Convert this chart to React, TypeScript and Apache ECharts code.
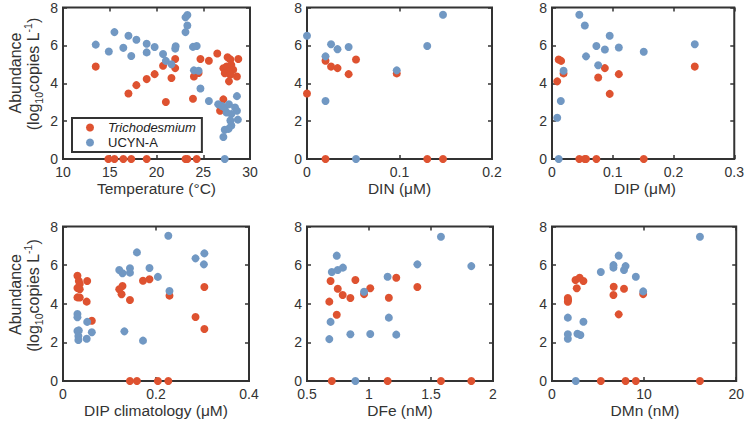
import React, { useEffect, useRef } from 'react';
import * as echarts from 'echarts';

const RED = '#DE5230';
const BLUE = '#7198C3';
const AX = '#333333';
const FONT = 'Liberation Sans, Arial, sans-serif';

// Temperature (°C) vs abundance
const tempTricho: number[][] = [
  [13.5, 4.88], [17.0, 3.46], [17.85, 3.9], [18.95, 4.22], [19.8, 4.48], [20.7, 4.92], [21.0, 3.01],
  [21.6, 4.28], [22.0, 4.8], [22.0, 5.28], [23.9, 3.18], [24.0, 4.36], [24.5, 4.54], [24.7, 5.28],
  [25.6, 5.19], [26.5, 5.57], [27.6, 5.37], [27.9, 5.26], [28.75, 5.28], [27.15, 4.79], [27.5, 4.88],
  [28.0, 4.97], [28.2, 4.71], [27.7, 4.62], [27.3, 4.53], [27.9, 4.45], [28.6, 4.36], [27.75, 4.1],
  [27.15, 3.15], [26.8, 2.55],
  [14.85, 0], [15.5, 0], [16.45, 0], [17.3, 0], [18.95, 0], [23.1, 0], [23.3, 0], [24.3, 0],
];
const tempUcyn: number[][] = [
  [13.5, 6.04], [15.5, 6.7], [14.9, 5.68], [16.45, 5.87], [17.0, 6.51], [17.3, 5.44], [17.85, 6.3],
  [18.95, 6.09], [18.95, 5.63], [19.8, 5.91], [20.7, 5.54], [21.0, 5.18], [21.6, 5.0], [22.0, 5.83],
  [22.05, 5.95], [23.1, 7.48], [23.3, 7.6], [23.3, 7.05], [23.1, 6.7], [23.9, 5.92], [24.3, 5.97],
  [24.0, 4.68], [24.5, 4.66], [24.7, 3.72], [25.6, 3.06], [26.6, 2.89], [27.0, 2.8], [28.6, 3.32],
  [27.3, 2.72], [27.75, 2.89], [28.4, 2.72], [28.6, 2.55], [27.5, 2.46], [28.0, 2.37], [27.9, 2.03],
  [28.7, 2.08], [28.0, 1.77], [27.7, 1.59], [27.3, 1.54], [27.15, 1.16],
  [27.3, 0],
];

// DIN (µM)
const dinTricho: number[][] = [
  [0, 3.46], [0.02, 5.19], [0.026, 4.88], [0.033, 4.8], [0.045, 4.48], [0.053, 5.25], [0.097, 4.52],
  [0.02, 0], [0.13, 0], [0.147, 0],
];
const dinUcyn: number[][] = [
  [0, 6.51], [0.026, 6.06], [0.033, 5.8], [0.045, 5.91], [0.02, 5.42], [0.02, 3.06], [0.097, 4.68],
  [0.13, 5.97], [0.147, 7.62], [0.053, 0],
];

// DIP (µM)
const dipTricho: number[][] = [
  [0.011, 5.25], [0.015, 5.18], [0.019, 4.52], [0.0086, 4.1], [0.087, 4.8], [0.076, 4.3], [0.11, 4.48],
  [0.095, 3.44], [0.235, 4.88],
  [0.045, 0], [0.054, 0], [0.056, 0], [0.073, 0], [0.151, 0],
];
const dipUcyn: number[][] = [
  [0.045, 7.62], [0.054, 7.05], [0.056, 5.42], [0.073, 5.97], [0.087, 5.78], [0.095, 6.51], [0.11, 5.89],
  [0.076, 4.95], [0.151, 5.66], [0.235, 6.06], [0.019, 4.66], [0.0145, 3.06], [0.0086, 2.18],
  [0.011, 0],
];

// DIP climatology (µM)
const dipcTricho: number[][] = [
  [0.031, 5.45], [0.034, 5.18], [0.036, 5.02], [0.052, 5.18], [0.031, 4.82], [0.036, 4.75],
  [0.031, 4.33], [0.036, 4.32], [0.051, 4.11], [0.062, 3.12], [0.121, 4.75], [0.128, 4.92],
  [0.126, 4.49], [0.144, 4.19], [0.172, 5.19], [0.186, 5.27], [0.229, 4.42], [0.285, 3.31],
  [0.304, 4.87], [0.304, 2.69],
  [0.144, 0], [0.159, 0], [0.204, 0], [0.2265, 0],
];
const dipcUcyn: number[][] = [
  [0.2265, 7.52], [0.159, 6.66], [0.121, 5.75], [0.128, 5.58], [0.144, 5.84], [0.144, 5.61],
  [0.186, 5.85], [0.204, 5.39], [0.229, 4.66], [0.285, 6.35], [0.304, 6.61], [0.303, 6.04],
  [0.132, 2.57], [0.172, 2.09], [0.031, 3.47], [0.031, 3.3], [0.052, 3.06], [0.031, 2.59],
  [0.034, 2.62], [0.033, 2.33], [0.033, 2.12], [0.051, 2.19], [0.062, 2.52],
];

// DFe (nM)
const dfeTricho: number[][] = [
  [0.69, 5.18], [0.748, 4.78], [0.788, 4.45], [0.85, 4.3], [0.89, 5.23], [0.96, 4.5], [1.01, 4.8],
  [1.16, 4.31], [1.22, 5.35], [1.39, 4.87], [0.68, 4.11], [0.74, 3.43],
  [0.7, 0], [1.15, 0], [1.58, 0], [1.825, 0],
];
const dfeUcyn: number[][] = [
  [0.74, 6.49], [0.7, 5.64], [0.748, 5.75], [0.79, 5.87], [0.96, 4.62], [1.15, 5.4], [1.39, 6.04],
  [1.58, 7.47], [1.825, 5.95], [0.69, 3.06], [0.68, 2.17], [0.85, 2.42], [1.01, 2.43], [1.16, 3.28],
  [1.22, 2.4], [0.89, 0],
];

// DMn (nM)
const dmnTricho: number[][] = [
  [2.55, 5.23], [3.0, 5.35], [3.41, 5.18], [2.69, 4.8], [1.72, 4.3], [1.72, 4.1], [1.75, 4.2],
  [6.7, 4.88], [6.67, 4.45], [7.82, 4.78], [7.24, 3.45], [9.9, 4.5],
  [5.3, 0], [7.99, 0], [9.1, 0], [16.06, 0],
];
const dmnUcyn: number[][] = [
  [16.06, 7.47], [7.24, 6.49], [6.67, 6.0], [6.67, 5.87], [7.99, 5.95], [7.82, 5.75], [5.3, 5.64],
  [9.1, 5.4], [9.9, 4.64], [1.72, 3.28], [3.41, 3.07], [1.72, 2.42], [1.72, 2.19], [2.76, 2.45],
  [3.08, 2.38], [2.58, 0],
];

const xTitles = ['Temperature (°C)', 'DIN (μM)', 'DIP (μM)', 'DIP climatology (μM)', 'DFe (nM)', 'DMn (nM)'];
const xMins = [10, 0, 0, 0, 0.5, 0];
const xMaxs = [30, 0.2, 0.3, 0.4, 2, 20];
const xIntervals = [5, 0.1, 0.1, 0.2, 0.5, 10];
const yTicks = { min: 0, max: 8, interval: 2 };
const seriesNames = ['Trichodesmium', 'UCYN-A'];

const triData = [tempTricho, dinTricho, dipTricho, dipcTricho, dfeTricho, dmnTricho];
const ucynData = [tempUcyn, dinUcyn, dipUcyn, dipcUcyn, dfeUcyn, dmnUcyn];

const gridBoxes = [
  { left: 63, top: 5, width: 187, height: 154 },
  { left: 307, top: 5, width: 185, height: 154 },
  { left: 552, top: 5, width: 186, height: 154 },
  { left: 63, top: 226.5, width: 186, height: 154.5 },
  { left: 307, top: 226.5, width: 186, height: 154.5 },
  { left: 552, top: 226.5, width: 186, height: 154.5 },
];

const fmt = (v: number) => String(Number(v.toFixed(3)));

function buildOption() {
  const grid: any[] = [];
  const xAxis: any[] = [];
  const yAxis: any[] = [];
  const series: any[] = [];
  const graphic: any[] = [];

  gridBoxes.forEach((g, i) => {
    grid.push({ ...g, show: true, borderColor: AX, borderWidth: 2, backgroundColor: 'transparent' });
    const tick = { show: true, inside: true, length: 4, lineStyle: { color: AX, width: 1.5 } };
    xAxis.push({
      type: 'value', gridIndex: i, position: 'bottom', min: xMins[i], max: xMaxs[i], interval: xIntervals[i],
      axisLine: { show: false, onZero: false }, axisTick: tick, splitLine: { show: false },
      axisLabel: { show: true, color: AX, fontSize: 14, lineHeight: 12, fontFamily: FONT, margin: 7, formatter: fmt },
    });
    xAxis.push({
      type: 'value', gridIndex: i, position: 'top', min: xMins[i], max: xMaxs[i], interval: xIntervals[i],
      axisLine: { show: false, onZero: false }, axisTick: tick, splitLine: { show: false },
      axisLabel: { show: false },
    });
    yAxis.push({
      type: 'value', gridIndex: i, position: 'left', ...yTicks,
      axisLine: { show: false, onZero: false }, axisTick: tick, splitLine: { show: false },
      axisLabel: {
        show: true, color: AX, fontSize: 14, lineHeight: 12, fontFamily: FONT, margin: 5,
        padding: [0, 0, 3, 0], formatter: fmt,
      },
    });
    yAxis.push({
      type: 'value', gridIndex: i, position: 'right', ...yTicks,
      axisLine: { show: false, onZero: false }, axisTick: tick, splitLine: { show: false },
      axisLabel: { show: false },
    });
    series.push({
      type: 'scatter', name: seriesNames[0], xAxisIndex: 2 * i, yAxisIndex: 2 * i,
      data: triData[i], symbol: 'circle', symbolSize: 8, clip: false,
      itemStyle: { color: RED, opacity: 1 },
    });
    series.push({
      type: 'scatter', name: seriesNames[1], xAxisIndex: 2 * i, yAxisIndex: 2 * i,
      data: ucynData[i], symbol: 'circle', symbolSize: 8, clip: false,
      itemStyle: { color: BLUE, opacity: 1 },
    });
    graphic.push({
      type: 'text', x: g.left + g.width / 2, y: g.top + g.height + 29,
      style: { text: xTitles[i], fontSize: 15.5, fontFamily: FONT, fill: AX, align: 'center', verticalAlign: 'middle' },
    });
  });

  [82, 303.5].forEach((cy) => {
    graphic.push({
      type: 'text', x: 15, y: cy - 9, rotation: Math.PI / 2,
      style: { text: 'Abundance', fontSize: 16, fontFamily: FONT, fill: AX, align: 'center', verticalAlign: 'middle' },
    });
    graphic.push({
      type: 'text', x: 33, y: cy - 8, rotation: Math.PI / 2,
      style: {
        text: '(log{sub|10}copies L{sup|-1})', fontSize: 16, fontFamily: FONT, fill: AX,
        align: 'center', verticalAlign: 'middle', lineHeight: 22,
        rich: {
          sub: { fontSize: 10.5, fontFamily: FONT, fill: AX, verticalAlign: 'bottom' },
          sup: { fontSize: 10.5, fontFamily: FONT, fill: AX, verticalAlign: 'top' },
        },
      },
    });
  });

  return {
    animation: false,
    backgroundColor: '#ffffff',
    textStyle: { fontFamily: FONT },
    grid, xAxis, yAxis, series, graphic,
    legend: {
      data: seriesNames, orient: 'vertical', left: 72, top: 118,
      itemWidth: 8, itemHeight: 8, itemGap: 2, icon: 'circle',
      padding: [3, 6, 3, 14], borderColor: AX, borderWidth: 2, backgroundColor: '#ffffff',
      selectedMode: false,
      formatter: (n: string) => (n === 'Trichodesmium' ? '{i|Trichodesmium}' : n),
      textStyle: {
        fontSize: 13, color: '#222', fontFamily: FONT, lineHeight: 12, padding: [0, 0, 0, 9],
        rich: { i: { fontStyle: 'italic', fontSize: 13, fontFamily: FONT, color: '#222' } },
      },
    },
  };
}

export default function App() {
  const ref = useRef<HTMLDivElement>(null);
  useEffect(() => {
    if (!ref.current) return;
    const chart = echarts.init(ref.current, undefined, { renderer: 'svg' });
    chart.setOption(buildOption() as any);
    return () => chart.dispose();
  }, []);
  return (
    <div
      ref={ref}
      style={{ position: 'absolute', left: 0, top: 0, width: 747, height: 423, background: '#fff' }}
    />
  );
}
